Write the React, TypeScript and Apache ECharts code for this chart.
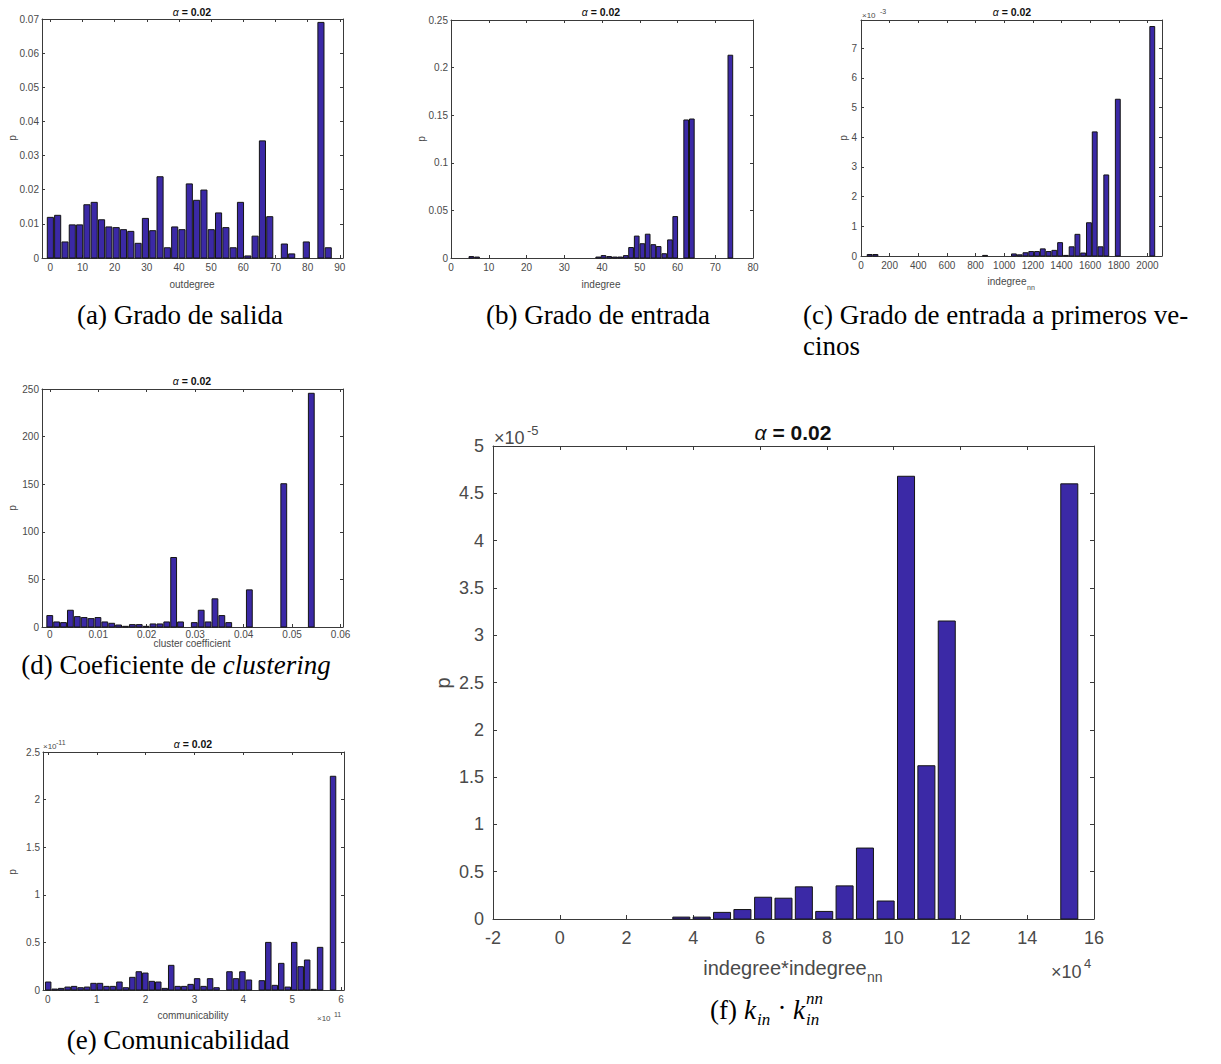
import React, { useEffect, useRef } from "react";
import * as echarts from "echarts";

// ---------- (a) outdegree ----------
const outdegreeBins = [0, 2.27, 4.55, 6.82, 9.1, 11.37, 13.64, 15.92, 18.19, 20.47, 22.74, 25.01, 27.29, 29.56, 31.84, 34.11, 36.38, 38.66, 40.93, 43.21, 45.48, 47.75, 50.03, 52.3, 54.58, 56.85, 59.12, 61.4, 63.67, 65.95, 68.22, 70.49, 72.77, 75.04, 77.32, 79.59, 81.86, 84.14, 86.41];
const outdegreeP = [0.0119, 0.0125, 0.0047, 0.0097, 0.0097, 0.0156, 0.0163, 0.0112, 0.0091, 0.0089, 0.0083, 0.0078, 0.0043, 0.0116, 0.008, 0.0238, 0.003, 0.0091, 0.0083, 0.0217, 0.0169, 0.0199, 0.0083, 0.0132, 0.0089, 0.003, 0.0163, 0.0006, 0.0064, 0.0343, 0.0121, 0, 0.0041, 0.0012, 0, 0.0047, 0, 0.069, 0.003];
const outdegreeXTicks = [0, 10, 20, 30, 40, 50, 60, 70, 80, 90];
const outdegreeYTicks = [0, 0.01, 0.02, 0.03, 0.04, 0.05, 0.06, 0.07];

// ---------- (b) indegree ----------
const indegreeBins = [5.4, 6.9, 39.0, 40.4, 41.9, 43.4, 44.8, 46.3, 47.7, 49.2, 50.7, 52.1, 53.6, 55.0, 56.5, 58.0, 59.4, 62.3, 63.8, 74.0];
const indegreeP = [0.0015, 0.001, 0.001, 0.0025, 0.0015, 0.001, 0.001, 0.0025, 0.011, 0.023, 0.015, 0.025, 0.014, 0.012, 0.0045, 0.019, 0.0435, 0.145, 0.146, 0.213];
const indegreeXTicks = [0, 10, 20, 30, 40, 50, 60, 70, 80];
const indegreeYTicks = [0, 0.05, 0.1, 0.15, 0.2, 0.25];

// ---------- (c) indegree_nn (p in units of 1e-3) ----------
const indegreeNnBins = [60.5, 100.8, 866.5, 1068, 1108.3, 1148.6, 1188.9, 1229.2, 1269.5, 1309.8, 1350.1, 1390.4, 1430.7, 1471, 1511.3, 1551.6, 1591.9, 1632.2, 1672.5, 1712.8, 1793.4, 2034];
const indegreeNnP = [0.05, 0.05, 0.02, 0.07, 0.04, 0.11, 0.15, 0.15, 0.24, 0.15, 0.19, 0.45, 0.02, 0.31, 0.73, 0.1, 1.12, 4.18, 0.31, 2.73, 5.28, 7.73];
const indegreeNnXTicks = [0, 200, 400, 600, 800, 1000, 1200, 1400, 1600, 1800, 2000];
const indegreeNnYTicks = [0, 1, 2, 3, 4, 5, 6, 7];

// ---------- (d) cluster coefficient ----------
const clusterBins = [0, 0.00142, 0.00284, 0.00426, 0.00568, 0.0071, 0.00852, 0.00994, 0.01136, 0.01278, 0.0142, 0.01562, 0.01704, 0.01846, 0.01988, 0.0213, 0.02272, 0.02414, 0.02556, 0.02698, 0.02982, 0.03124, 0.03266, 0.03408, 0.0355, 0.03692, 0.04118, 0.04828, 0.05396];
const clusterP = [12, 5.3, 4.6, 17.6, 10.9, 9.9, 8.8, 9.9, 5.3, 3.9, 2.1, 0.7, 2.5, 2.5, 0.7, 3.2, 3.2, 5.3, 73, 5.3, 4.6, 17.6, 5.3, 29.6, 12, 4.6, 39, 150.5, 245.5];
const clusterXTicks = [0, 0.01, 0.02, 0.03, 0.04, 0.05, 0.06];
const clusterYTicks = [0, 50, 100, 150, 200, 250];

// ---------- (e) communicability (x in 1e11, p in 1e-11) ----------
const commBins = [0.006, 0.139, 0.271, 0.404, 0.536, 0.669, 0.801, 0.934, 1.066, 1.199, 1.331, 1.464, 1.596, 1.729, 1.861, 1.994, 2.126, 2.259, 2.391, 2.524, 2.656, 2.789, 2.921, 3.054, 3.186, 3.319, 3.451, 3.584, 3.716, 3.849, 3.981, 4.114, 4.246, 4.379, 4.511, 4.644, 4.776, 4.909, 5.041, 5.174, 5.306, 5.439, 5.571, 5.704, 5.836];
const commP = [0.084, 0.01, 0.017, 0.031, 0.038, 0.024, 0.031, 0.07, 0.07, 0.038, 0.038, 0.084, 0.024, 0.133, 0.192, 0.178, 0.091, 0.084, 0.017, 0.259, 0.038, 0.038, 0.059, 0.119, 0.038, 0.119, 0.024, 0, 0.192, 0.119, 0.192, 0.105, 0, 0.098, 0.5, 0.049, 0.28, 0.031, 0.5, 0.245, 0.315, 0.007, 0.448, 0, 2.245];
const commXTicks = [0, 1, 2, 3, 4, 5, 6];
const commYTicks = [0, 0.5, 1, 1.5, 2, 2.5];

// ---------- (f) indegree*indegree_nn (x in 1e4, p in 1e-5) ----------
const prodBins = [3.64, 4.25, 4.86, 5.47, 6.09, 6.7, 7.31, 7.92, 8.53, 9.14, 9.76, 10.37, 10.98, 11.59, 15.26];
const prodP = [0.02, 0.02, 0.07, 0.1, 0.23, 0.22, 0.34, 0.08, 0.35, 0.75, 0.19, 4.68, 1.62, 3.15, 4.6];
const prodXTicks = [-2, 0, 2, 4, 6, 8, 10, 12, 14, 16];
const prodYTicks = [0, 0.5, 1, 1.5, 2, 2.5, 3, 3.5, 4, 4.5, 5];

const BAR = "#3b29a6";
const EDGE = "#141414";
const AX = "#3a3a3a";
const TXT = "#4a4a4a";
const SANS = "'Liberation Sans', Arial, Helvetica, sans-serif";
const SERIF = "'Liberation Serif', 'Times New Roman', serif";

type Panel = {
  grid: { left: number; top: number; width: number; height: number };
  xMin: number; xMax: number; xStep: number; xTicks: number[];
  yMin: number; yMax: number; yStep: number; yTicks: number[];
  xs: number[]; ps: number[]; half: number;
  font: number; tickLen: number; xMargin: number; yMargin: number;
};

const panels: Panel[] = [
  { grid: { left: 42, top: 19, width: 301, height: 239 }, xMin: -2.6, xMax: 91, xStep: 10, xTicks: outdegreeXTicks, yMin: 0, yMax: 0.07, yStep: 0.01, yTicks: outdegreeYTicks, xs: outdegreeBins, ps: outdegreeP, half: 0.95, font: 10, tickLen: 3, xMargin: 4, yMargin: 3 },
  { grid: { left: 451, top: 20, width: 302, height: 238 }, xMin: 0, xMax: 80, xStep: 10, xTicks: indegreeXTicks, yMin: 0, yMax: 0.25, yStep: 0.05, yTicks: indegreeYTicks, xs: indegreeBins, ps: indegreeP, half: 0.62, font: 10, tickLen: 3, xMargin: 4, yMargin: 3 },
  { grid: { left: 861, top: 20, width: 301, height: 236 }, xMin: 0, xMax: 2102, xStep: 200, xTicks: indegreeNnXTicks, yMin: 0, yMax: 7.95, yStep: 1, yTicks: indegreeNnYTicks, xs: indegreeNnBins, ps: indegreeNnP, half: 17, font: 10, tickLen: 3, xMargin: 4, yMargin: 4 },
  { grid: { left: 42, top: 389, width: 301, height: 238 }, xMin: -0.0016, xMax: 0.0605, xStep: 0.01, xTicks: clusterXTicks, yMin: 0, yMax: 250, yStep: 50, yTicks: clusterYTicks, xs: clusterBins, ps: clusterP, half: 0.0006, font: 10, tickLen: 3, xMargin: 2, yMargin: 3 },
  { grid: { left: 43, top: 752, width: 301, height: 238 }, xMin: -0.1, xMax: 6.06, xStep: 1, xTicks: commXTicks, yMin: 0, yMax: 2.5, yStep: 0.5, yTicks: commYTicks, xs: commBins, ps: commP, half: 0.056, font: 10, tickLen: 3, xMargin: 4, yMargin: 3 },
  { grid: { left: 493, top: 446, width: 601, height: 473 }, xMin: -2, xMax: 16, xStep: 2, xTicks: prodXTicks, yMin: 0, yMax: 5, yStep: 0.5, yTicks: prodYTicks, xs: prodBins, ps: prodP, half: 0.255, font: 18, tickLen: 4, xMargin: 10, yMargin: 9 },
];

const tickFormatter = (ticks: number[], step: number) => (v: number) => {
  const t = ticks.find((k) => Math.abs(k - v) < step * 1e-6);
  return t === undefined ? "" : String(t);
};

function buildOption() {
  const grids: any[] = [];
  const xAxes: any[] = [];
  const yAxes: any[] = [];
  const series: any[] = [];
  panels.forEach((p, i) => {
    grids.push({ ...p.grid, containLabel: false, outerBoundsMode: "none", show: false });
    const line = { show: true, onZero: false, lineStyle: { color: AX, width: 1 } };
    const tick = { show: true, inside: true, length: p.tickLen, lineStyle: { color: AX, width: 1 } };
    const xBase = { type: "value", gridIndex: i, min: p.xMin, max: p.xMax, minInterval: p.xStep, maxInterval: p.xStep, splitLine: { show: false }, axisLine: line, axisTick: tick };
    const yBase = { type: "value", gridIndex: i, min: p.yMin, max: p.yMax, minInterval: p.yStep, maxInterval: p.yStep, splitLine: { show: false }, axisLine: line, axisTick: tick };
    xAxes.push({ ...xBase, position: "bottom", axisLabel: { show: true, formatter: tickFormatter(p.xTicks, p.xStep), color: TXT, fontSize: p.font, fontFamily: SANS, margin: p.xMargin, showMinLabel: true, showMaxLabel: true, hideOverlap: false } });
    xAxes.push({ ...xBase, position: "top", axisLabel: { show: false } });
    yAxes.push({ ...yBase, position: "left", axisLabel: { show: true, formatter: tickFormatter(p.yTicks, p.yStep), color: TXT, fontSize: p.font, fontFamily: SANS, margin: p.yMargin, hideOverlap: false } });
    yAxes.push({ ...yBase, position: "right", axisLabel: { show: false } });
    const half = p.half;
    series.push({
      type: "custom",
      xAxisIndex: 2 * i,
      yAxisIndex: 2 * i,
      silent: true,
      clip: false,
      encode: { x: 0, y: 1 },
      data: p.xs.map((x, k) => [x, p.ps[k]]),
      renderItem: (_params: any, api: any) => {
        const x = api.value(0) as number;
        const y = api.value(1) as number;
        if (!(y > 0)) return null;
        const a = api.coord([x - half, 0]);
        const b = api.coord([x + half, y]);
        return {
          type: "rect",
          shape: { x: a[0], y: b[1], width: b[0] - a[0], height: a[1] - b[1] },
          style: { fill: BAR, stroke: EDGE, lineWidth: 1 },
        };
      },
    });
  });

  const txt = (text: string, x: number, y: number, o: any = {}) => ({
    type: "text",
    x,
    y,
    silent: true,
    rotation: o.rotation || 0,
    style: {
      text,
      fill: o.fill || TXT,
      fontSize: o.size || 10,
      fontFamily: o.family || SANS,
      fontWeight: o.weight || "normal",
      fontStyle: o.style || "normal",
      align: o.align || "center",
      verticalAlign: o.valign || "middle",
      textAlign: o.align || "center",
      textVerticalAlign: o.valign || "middle",
      rich: o.rich,
    },
  });

  const titleRich = (size: number) => ({
    a: { fontSize: size, fontFamily: SANS, fontStyle: "italic", fontWeight: "normal", fill: "#111" },
    b: { fontSize: size, fontFamily: SANS, fontWeight: "bold", fill: "#111" },
  });
  const title = (x: number, y: number, size: number) =>
    txt("{a|α}{b| = 0.02}", x, y, { rich: titleRich(size) });

  const capSize = 27;
  const graphics: any[] = [
    // (a)
    title(192, 12, 10.5),
    txt("outdegree", 192, 284, { size: 10 }),
    txt("p", 12, 138, { size: 10, rotation: Math.PI / 2 }),
    // (b)
    title(601, 12, 10.5),
    txt("indegree", 601, 284, { size: 10 }),
    txt("p", 421, 139, { size: 10, rotation: Math.PI / 2 }),
    // (c)
    title(1012, 12, 10.5),
    txt("indegree", 1007, 281, { size: 10 }),
    txt("nn", 1027, 287, { size: 7, align: "left" }),
    txt("p", 843, 138, { size: 10, rotation: Math.PI / 2 }),
    txt("×10", 862, 15, { size: 8, align: "left" }),
    txt("-3", 880, 11, { size: 7, align: "left" }),
    // (d)
    title(192, 381, 10.5),
    txt("cluster coefficient", 192, 643, { size: 10 }),
    txt("p", 12, 508, { size: 10, rotation: Math.PI / 2 }),
    // (e)
    title(193, 744, 10.5),
    txt("communicability", 193, 1015, { size: 10 }),
    txt("p", 12, 872, { size: 10, rotation: Math.PI / 2 }),
    txt("×10", 43, 746, { size: 8, align: "left" }),
    txt("-11", 56, 742, { size: 7, align: "left" }),
    txt("×10", 317, 1018, { size: 8, align: "left" }),
    txt("11", 334, 1014, { size: 7, align: "left" }),
    // (f)
    title(793, 432, 21),
    txt("indegree*indegree", 785, 968, { size: 20 }),
    txt("nn", 867, 977, { size: 14, align: "left" }),
    txt("p", 443, 683, { size: 20, rotation: Math.PI / 2 }),
    txt("×10", 494, 438, { size: 18, align: "left" }),
    txt("-5", 527, 430, { size: 13, align: "left" }),
    txt("×10", 1051, 972, { size: 18, align: "left" }),
    txt("4", 1084, 963, { size: 13, align: "left" }),
    // captions
    txt("(a) Grado de salida", 180, 315, { size: capSize, family: SERIF, fill: "#000" }),
    txt("(b) Grado de entrada", 598, 315, { size: capSize, family: SERIF, fill: "#000" }),
    txt("(c) Grado de entrada a primeros ve-", 803, 315, { size: capSize, family: SERIF, fill: "#000", align: "left" }),
    txt("cinos", 803, 346, { size: capSize, family: SERIF, fill: "#000", align: "left" }),
    txt("{n|(d) Coeficiente de }{i|clustering}", 176, 665, {
      rich: {
        n: { fontSize: capSize, fontFamily: SERIF, fill: "#000" },
        i: { fontSize: capSize, fontFamily: SERIF, fontStyle: "italic", fill: "#000" },
      },
    }),
    txt("(e) Comunicabilidad", 178, 1040, { size: capSize, family: SERIF, fill: "#000" }),
    txt("(f)", 710, 1010, { size: capSize, family: SERIF, fill: "#000", align: "left" }),
    txt("k", 744, 1010, { size: capSize, family: SERIF, style: "italic", fill: "#000", align: "left" }),
    txt("in", 757, 1019, { size: 17, family: SERIF, style: "italic", fill: "#000", align: "left" }),
    txt("·", 782, 1008, { size: capSize, family: SERIF, fill: "#000" }),
    txt("k", 793, 1010, { size: capSize, family: SERIF, style: "italic", fill: "#000", align: "left" }),
    txt("in", 806, 1019, { size: 17, family: SERIF, style: "italic", fill: "#000", align: "left" }),
    txt("nn", 806, 998, { size: 17, family: SERIF, style: "italic", fill: "#000", align: "left" }),
  ];

  return {
    animation: false,
    backgroundColor: "#ffffff",
    grid: grids,
    xAxis: xAxes,
    yAxis: yAxes,
    series,
    graphic: { elements: graphics },
  };
}

export default function App() {
  const ref = useRef<HTMLDivElement>(null);
  useEffect(() => {
    if (!ref.current) return;
    const chart = echarts.init(ref.current, undefined, { renderer: "svg" });
    chart.setOption(buildOption() as any);
    return () => chart.dispose();
  }, []);
  return (
    <div
      ref={ref}
      style={{ position: "absolute", left: 0, top: 0, width: 1221, height: 1064, background: "#fff" }}
    />
  );
}
